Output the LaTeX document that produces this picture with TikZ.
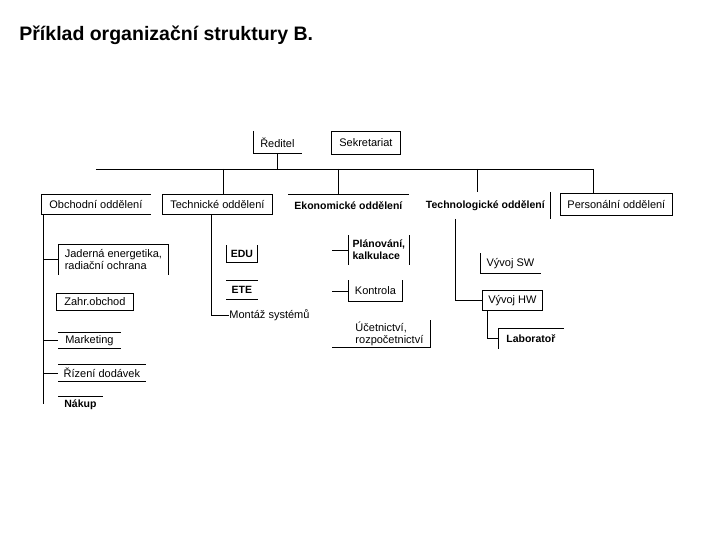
\documentclass[tikz,border=0pt]{standalone}
\usepackage{fontspec}
\setmainfont{Liberation Sans}
\usetikzlibrary{positioning,calc}
\tikzset{
    unit/.style={
        anchor=north west,inner sep=0pt,font=\fontsize{11}{12.5}\selectfont
    },
    strong/.style={
        unit,font=\fontsize{10.5}{12.5}\selectfont\bfseries
    },
    frame/.style={
        line width=.8pt
    }
}
\begin{document}
\begin{tikzpicture}[x=1pt,y=-1pt,frame]
\useasboundingbox (0,0) rectangle (720,540);
\node[anchor=west,inner sep=0pt,font=\fontsize{19.5}{22}\selectfont\bfseries] (title) at (19,35) {Příklad organizační struktury B.};
% top
\node[unit,minimum width=48pt,minimum height=22pt] (reditel) at (253,131) {Ředitel};
\node[unit,minimum width=69pt,minimum height=23pt] (sekr) at (331,131) {Sekretariat};
% departments
\node[unit,minimum width=109pt,minimum height=20pt] (obch) at (41,194) {Obchodní oddělení};
\node[unit,minimum width=110pt,minimum height=20pt] (tech) at (162,194) {Technické oddělení};
\node[strong,minimum width=120pt,minimum height=22pt] (ekon) at (288,194) {Ekonomické oddělení};
\node[strong,minimum width=130pt,minimum height=26pt] (techn) at (420,192) {Technologické oddělení};
\node[unit,minimum width=112pt,minimum height=22pt] (pers) at (560,193) {Personální oddělení};
% obchodni
\node[unit,minimum width=110pt,minimum height=30pt,align=left] (jaderna) at (58,244) {Jaderná energetika,\\radiační ochrana};
\node[unit,minimum width=77pt,minimum height=17pt] (zahr) at (56,293) {Zahr.obchod};
\node[unit,minimum width=62pt,minimum height=16pt] (mark) at (58,332) {Marketing};
\node[unit,minimum width=87pt,minimum height=17pt] (rizeni) at (58,364) {Řízení dodávek};
\node[strong,minimum width=44pt,minimum height=16pt] (nakup) at (58,396) {Nákup};
% technicke
\node[strong,minimum width=31pt,minimum height=17pt] (edu) at (226,245) {EDU};
\node[strong,minimum width=31pt,minimum height=19pt] (ete) at (226,280) {ETE};
\node[unit,anchor=west] (montaz) at (229,315) {Montáž systémů};
% ekonomicke
\node[strong,minimum width=61pt,minimum height=29pt,align=left] (plan) at (348,235) {Plánování,\\kalkulace};
\node[unit,minimum width=54pt,minimum height=21pt] (kontr) at (348,280) {Kontrola};
\node[unit,minimum width=82pt,minimum height=27pt,align=left] (ucet) at (348,320) {Účetnictví,\\rozpočetnictví};
% technologicke
\node[unit,minimum width=60pt,minimum height=20pt] (sw) at (480,253) {Vývoj SW};
\node[unit,minimum width=60pt,minimum height=20pt] (hw) at (482,290) {Vývoj HW};
\node[strong,minimum width=65pt,minimum height=20pt] (lab) at (498,328) {Laboratoř};
\coordinate (bus) at (0,169);
\coordinate (ob) at ([xshift=2pt]obch.south west);
\coordinate (ek) at (332,0);
% box sides
\draw (reditel.north west) -- (reditel.south west) -- (reditel.south east);
\draw (sekr.north west) rectangle (sekr.south east);
\draw (obch.south east) -- (obch.south west) -- (obch.north west) -- (obch.north east);
\draw (tech.north west) rectangle (tech.south east);
\draw (ekon.north west) -- (ekon.north east);
\draw (techn.north east) -- (techn.south east);
\draw (pers.north west) rectangle (pers.south east);
\draw (jaderna.south west) -- (jaderna.north west) -- (jaderna.north east) -- (jaderna.south east);
\draw (zahr.north west) rectangle (zahr.south east);
\draw (mark.north west) -- (mark.north east) (mark.south west) -- (mark.south east);
\draw (rizeni.north west) -- (rizeni.north east) (rizeni.south west) -- (rizeni.south east);
\draw (nakup.north west) -- (nakup.north east);
\draw (edu.north west) -- (edu.south west) -- (edu.south east) -- (edu.north east);
\draw (ete.north west) -- (ete.north east) (ete.south west) -- (ete.south east);
\draw (plan.north west) -- (plan.south west) (plan.north east) -- (plan.south east);
\draw (kontr.north west) -- (kontr.south west) -- (kontr.south east) -- (kontr.north east);
\draw (ucet.south west) -- (ucet.south east) -- (ucet.north east);
\draw (sw.north west) -- (sw.south west) -- (sw.south east);
\draw (hw.north west) rectangle (hw.south east);
\draw (lab.south west) -- (lab.north west) -- (lab.north east);
% connectors
\draw (obch.north |- bus) -- ([xshift=-23pt]pers.north |- bus);
\draw (reditel.south) -- (reditel.south |- bus);
\draw ([xshift=6pt]tech.north |- bus) -- ([xshift=6pt]tech.north);
\draw ([xshift=-10pt]ekon.north |- bus) -- ([xshift=-10pt]ekon.north);
\draw ([xshift=-8pt]techn.north |- bus) -- ([xshift=-8pt]techn.north);
\draw ([xshift=-23pt]pers.north |- bus) -- ([xshift=-23pt]pers.north);
\draw (ob) -- (ob |- nakup.center);
\draw (jaderna.west -| ob) -- (jaderna.west);
\draw (mark.west -| ob) -- (mark.west);
\draw (rizeni.west -| ob) -- (rizeni.west);
\draw ([xshift=-6pt]tech.south) |- (montaz.west);
\draw (plan.west -| ek) -- (plan.west);
\draw (kontr.west -| ek) -- (kontr.west);
\draw (ucet.south west -| ek) -- (ucet.south west);
\draw ([xshift=-30pt]techn.south) |- (hw.west);
\draw ([xshift=5pt]hw.south west) |- (lab.west);
\end{tikzpicture}
\end{document}
